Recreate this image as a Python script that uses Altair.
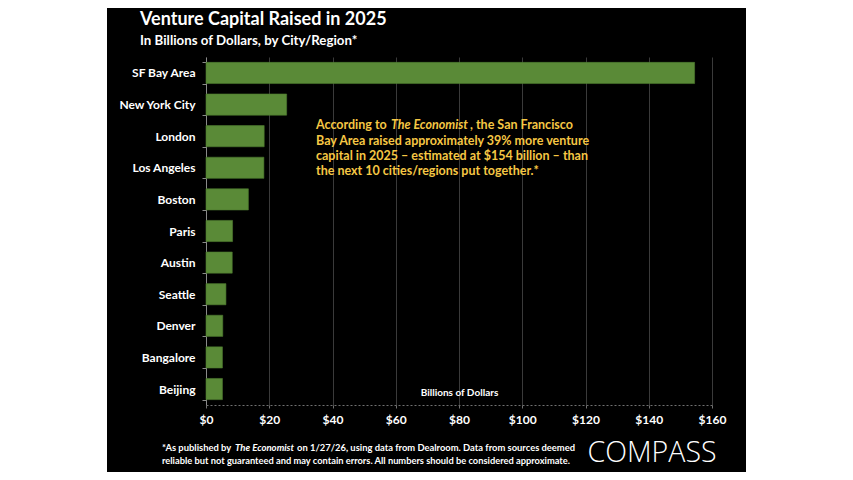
import altair as alt
import pandas as pd

cities = ["SF Bay Area", "New York City", "London", "Los Angeles", "Boston",
          "Paris", "Austin", "Seattle", "Denver", "Bangalore", "Beijing"]
values = [154.5, 25.5, 18.4, 18.3, 13.4, 8.4, 8.3, 6.3, 5.3, 5.2, 5.2]
x_ticks = [0, 20, 40, 60, 80, 100, 120, 140, 160]

title_text = "Venture Capital Raised in 2025"
subtitle_text = "In Billions of Dollars, by City/Region*"
note_lines = [
    "Bay Area raised approximately 39% more venture",
    "capital in 2025 \u2013 estimated at $154 billion \u2013 than",
    "the next 10 cities/regions put together.*",
]
foot_line2 = "reliable but not guaranteed and may contain errors. All numbers should be considered approximate."

df = pd.DataFrame({"city": cities, "value": values})

W, H = 506, 348
PAD = {"left": 198, "top": 49, "right": 34, "bottom": 67}
FONT = "Lato"
GOLD = "#f6c744"
one = pd.DataFrame({"a": [0]})

side = alt.Chart(one).mark_rect(color="white").encode(
    x=alt.value(-198), x2=alt.value(-99), y=alt.value(-49), y2=alt.value(H + 67)
)

bars = alt.Chart(df).mark_bar(color="#5a8a37", stroke="#4d7a2f", strokeWidth=0.6).encode(
    y=alt.Y("city:N", sort=cities,
            scale=alt.Scale(paddingInner=0.33, paddingOuter=0.17),
            axis=alt.Axis(title=None, labelColor="white", labelFont=FONT,
                          labelFontWeight="bold", labelFontSize=12,
                          domainColor="#8a8a8a", tickColor="#8a8a8a", tickSize=4,
                          labelPadding=7, tickBand="extent", grid=False)),
    x=alt.X("value:Q", scale=alt.Scale(domain=[0, 160], nice=False),
            axis=alt.Axis(values=x_ticks, format="$,.0f", title="Billions of Dollars",
                          titleY=-13, titleBaseline="middle", titleColor="white",
                          titleFont=FONT, titleFontSize=10, titleFontWeight="bold",
                          grid=True, gridColor="#3a3a3a", gridWidth=1,
                          domainColor="#707070", domainDash=[2, 2],
                          tickColor="#707070", tickSize=3, labelFlush=False,
                          labelColor="white", labelFont=FONT, labelFontSize=12,
                          labelFontWeight="bold", labelPadding=6)),
)


def txt(label, x, y, size, color="white", align="left", style="normal", weight="bold", font=FONT):
    return alt.Chart(one).mark_text(
        text=label, align=align, baseline="middle", fontSize=size, color=color,
        font=font, fontStyle=style, fontWeight=weight
    ).encode(x=alt.value(x), y=alt.value(y))


texts = [
    # title
    txt(title_text, -66, -37, 18),
    txt(subtitle_text, -66, -16, 13.3),
    # annotation
    txt("According to", 110, 68, 12.5, GOLD),
    txt("The Economist", 185, 68, 12.5, GOLD, style="italic"),
    txt(", the San Francisco", 264, 68, 12.5, GOLD),
    txt(note_lines[0], 110, 84, 12.5, GOLD),
    txt(note_lines[1], 110, 99, 12.5, GOLD),
    txt(note_lines[2], 110, 114, 12.5, GOLD),
    # footnote
    txt("*As published by", -44, 391, 9.4),
    txt("The Economist", 29, 391, 9.6, style="italic"),
    txt("on 1/27/26, using data from Dealroom. Data from sources deemed", 91, 391, 9.4),
    txt(foot_line2, -44, 404, 9.3),
    # logo
    txt("COMPASS", 446, 396, 28.5, align="center", weight=300, font="Open Sans"),
]

chart = alt.layer(side, bars, *texts).properties(
    width=W, height=H, padding=PAD,
    autosize=alt.AutoSizeParams(type="none"),
    background="black",
).configure_view(stroke=None)

chart.save("out.html", embed_options={"renderer": "svg", "actions": False})
